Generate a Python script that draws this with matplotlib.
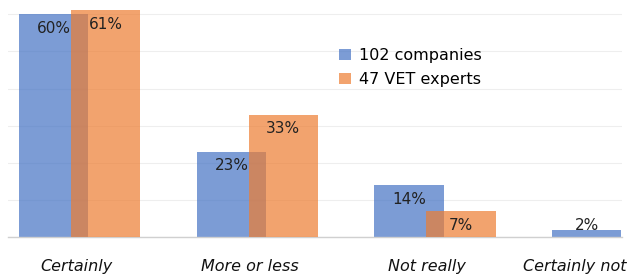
import matplotlib
matplotlib.use("Agg")
import matplotlib.pyplot as plt
import matplotlib.transforms as mtransforms
import numpy as np

categories = ["Certainly", "More or less", "Not really", "Certainly not"]
companies = [60, 23, 14, 2]
experts = [61, 33, 7, 0]
series_names = ["102 companies", "47 VET experts"]

W, H = 633, 274
fig = plt.figure(figsize=(W / 100, H / 100), dpi=100)
ax = fig.add_axes([8 / W, (H - 237.3) / H, (622 - 8) / W, 237.3 / H])

x = np.arange(len(categories))
off = 0.146
width = 0.39
blue = (68 / 255, 114 / 255, 196 / 255, 0.70)
orange = (237 / 255, 125 / 255, 49 / 255, 0.70)

b1 = ax.bar(x - off, companies, width, color=blue, label=series_names[0], zorder=2)
b2 = ax.bar(x + off, experts, width, color=orange, label=series_names[1], zorder=3)

ax.set_xlim(-0.403, 3.052)
ax.set_ylim(0, 63.8)
ax.set_yticks(np.arange(0, 61, 10))
ax.yaxis.grid(True, color="#EEEEEE", linewidth=0.8, zorder=0)
ax.set_axisbelow(True)
for s in ["top", "right", "left"]:
    ax.spines[s].set_visible(False)
ax.spines["bottom"].set_color("#D0D0D0")
ax.spines["bottom"].set_linewidth(1.0)
ax.tick_params(axis="y", left=False, labelleft=False)
ax.tick_params(axis="x", bottom=False, pad=12)
ax.set_xticks(x)
ax.set_xticklabels(categories, fontstyle="italic", fontsize=11.5, color="#111111")
lbls = ax.get_xticklabels()
shifts = [-3, -7, -8, -38]
for lab, s in zip(lbls, shifts):
    lab.set_transform(lab.get_transform() + mtransforms.Affine2D().translate(s, 0))

def add_labels(bars, vals):
    for rect, v in zip(bars, vals):
        if v <= 0:
            continue
        cx = rect.get_x() + rect.get_width() / 2
        dy = -14 if v >= 5 else 4
        ax.annotate(f"{v}%", (cx, v), xytext=(0, dy), textcoords="offset pixels",
                    ha="center", va="center", fontsize=11, color="#222222", zorder=5)

add_labels(b1, companies)
add_labels(b2, experts)

leg = fig.legend(loc="upper left", bbox_to_anchor=(333 / W, 1 - 42 / H), frameon=False,
                 fontsize=11.5, handlelength=0.7, handleheight=0.7, handletextpad=0.5,
                 labelspacing=0.55, borderaxespad=0)

fig.savefig("out.png", dpi=100)
